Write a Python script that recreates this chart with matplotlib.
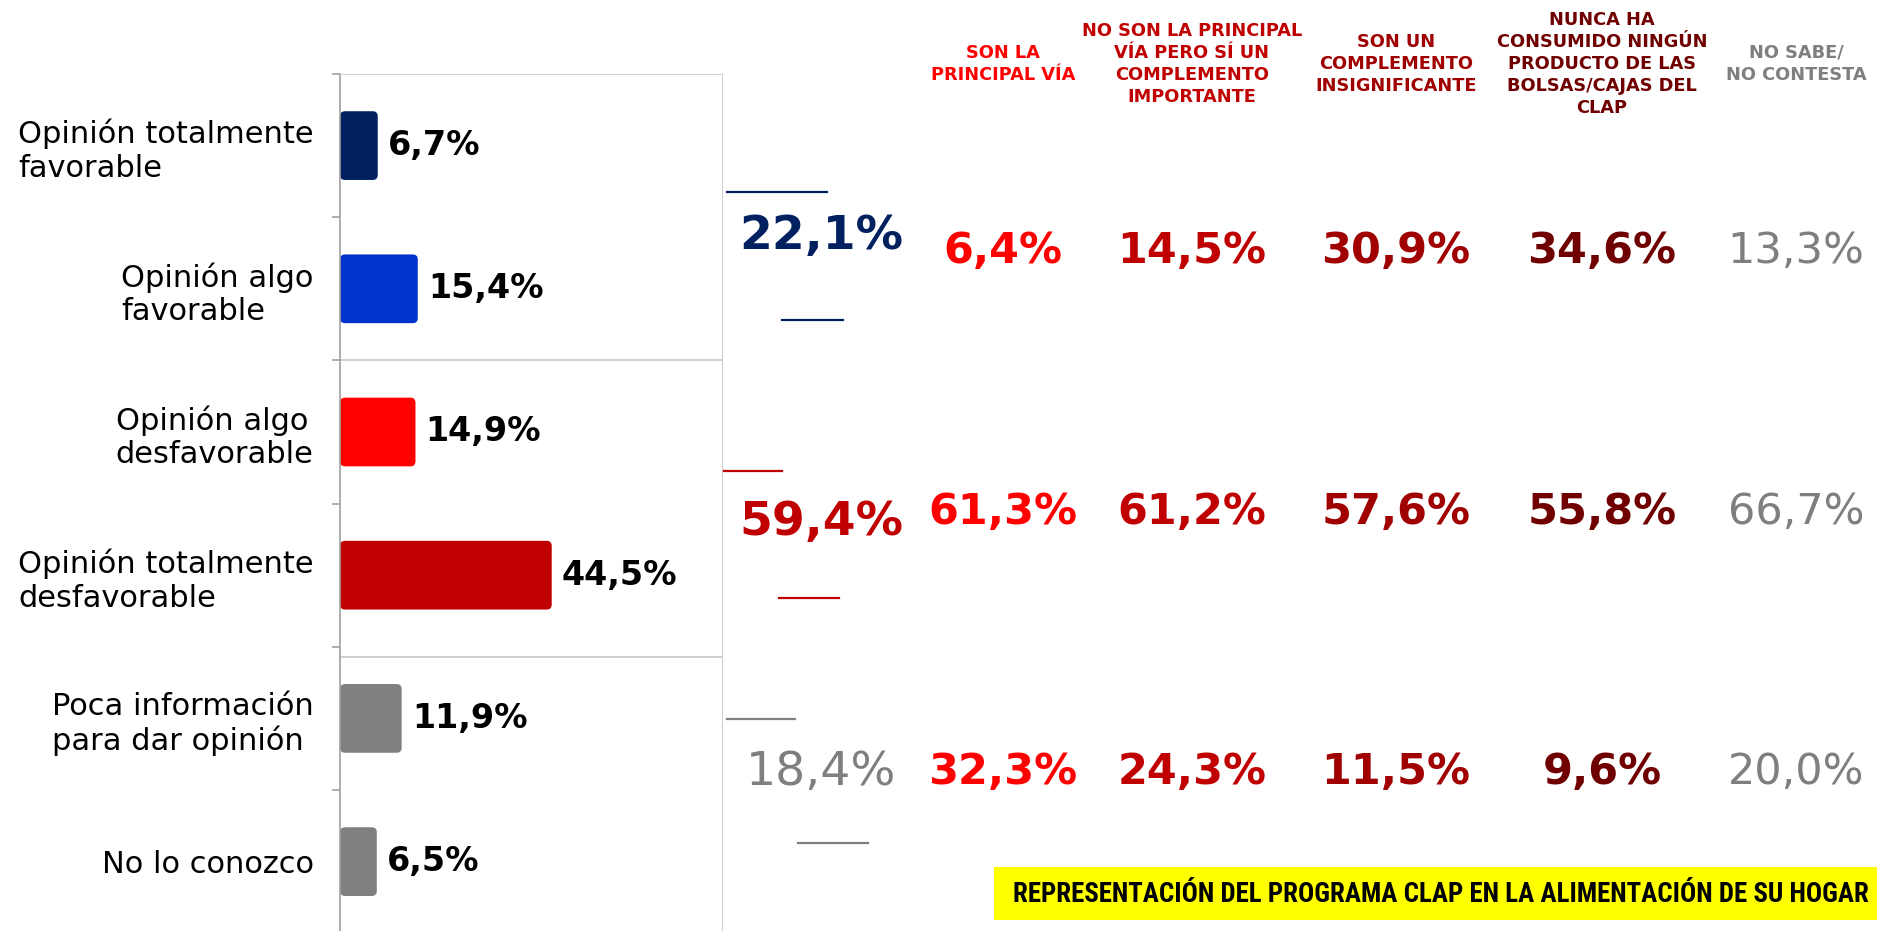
import matplotlib
matplotlib.use('Agg')
import matplotlib.pyplot as plt
import matplotlib.font_manager as fm
from matplotlib.patches import FancyBboxPatch, Rectangle
from matplotlib.lines import Line2D
import numpy as np

# opinion del programa CLAP (barras)
categories = ['Opinión totalmente\nfavorable', 'Opinión algo\nfavorable',
              'Opinión algo\ndesfavorable', 'Opinión totalmente\ndesfavorable',
              'Poca información\npara dar opinión', 'No lo conozco']
opinion = [6.7, 15.4, 14.9, 44.5, 11.9, 6.5]
bar_colors = ['#002060', '#0033CC', '#FF0000', '#C00000', '#808080', '#808080']

# totales por grupo de opinion
group_totals = [22.1, 59.4, 18.4]
total_colors = ['#002060', '#C00000', '#7F7F7F']

# representacion del CLAP en la alimentacion del hogar (columnas)
headers = ['SON LA\nPRINCIPAL VÍA',
           'NO SON LA PRINCIPAL\nVÍA PERO SÍ UN\nCOMPLEMENTO\nIMPORTANTE',
           'SON UN\nCOMPLEMENTO\nINSIGNIFICANTE',
           'NUNCA HA\nCONSUMIDO NINGÚN\nPRODUCTO DE LAS\nBOLSAS/CAJAS DEL\nCLAP',
           'NO SABE/\nNO CONTESTA']
principal = [6.4, 61.3, 32.3]
complemento_importante = [14.5, 61.2, 24.3]
complemento_insignificante = [30.9, 57.6, 11.5]
nunca_ha_consumido = [34.6, 55.8, 9.6]
no_sabe = [13.3, 66.7, 20.0]
col_colors = ['#FF0000', '#C00000', '#A00000', '#700000', '#7F7F7F']
footer = 'REPRESENTACIÓN DEL PROGRAMA CLAP EN LA ALIMENTACIÓN DE SU HOGAR'


def pct(v):
    return f'{v:.1f}'.replace('.', ',') + '%'


names = {f.name for f in fm.fontManager.ttflist}
narrow = 'DejaVu Sans'
for cand in ['Liberation Sans Narrow', 'DejaVu Sans Condensed', 'Roboto Condensed',
             'Open Sans Condensed', 'Noto Sans Condensed']:
    if cand in names:
        narrow = cand
        break

plt.rcParams['font.family'] = ['DejaVu Sans']

W, H = 1877, 931
fig = plt.figure(figsize=(W / 100, H / 100), dpi=100)
fig.patch.set_facecolor('white')

# bar panel
ax = fig.add_axes([340 / W, 0, 382 / W, (H - 74) / H])
pad = 1.5
y = np.arange(len(opinion))
bars = ax.barh(y, np.array(opinion) + pad, left=-pad, height=0.48, color=bar_colors)
for b, c in zip(bars, bar_colors):
    b.set_visible(False)
    ax.add_patch(FancyBboxPatch((b.get_x(), b.get_y()), b.get_width(), b.get_height(),
                                boxstyle='round,pad=0,rounding_size=1.1',
                                mutation_aspect=0.032, fc=c, ec='none'))
for yi, v in zip(y, opinion):
    ax.text(v + 2.2, yi, pct(v), va='center', ha='left', fontsize=24,
            fontweight='bold', color='black')

ax.set_xlim(-pad, 81.5)
ax.set_ylim(-0.5 + (H - 74) / 143.2, -0.5)
ax.set_xticks([])
ax.set_yticks(np.arange(-0.5, 5, 1))
ax.set_yticklabels([])
ax.set_yticks(y, minor=True)
ax.set_yticklabels(categories, minor=True, fontsize=22, ha='right', ma='left',
                   linespacing=1.2)
ax.tick_params(axis='y', which='major', length=6, color='#A0A0A0', width=1.2)
ax.tick_params(axis='y', which='minor', length=0, pad=19)
ax.spines['left'].set_color('#A0A0A0')
ax.spines['left'].set_linewidth(1.2)
for s in ['top', 'right']:
    ax.spines[s].set_color('#D0D0D0')
ax.spines['bottom'].set_visible(False)
ax.axhline(1.5, color='#C8C8C8', lw=1.2)
ax.axhline(3.57, color='#C8C8C8', lw=1.2)

# group totals with their accent lines
total_y = [237, 523, 772]
accent = [((727, 827, 192), (782, 843, 320)),
          ((724, 782, 471), (779, 839, 598)),
          ((727, 795, 719), (798, 868, 843))]
for v, c, ty, lines in zip(group_totals, total_colors, total_y, accent):
    fig.text(821 / W, 1 - ty / H, pct(v), ha='center', va='center', fontsize=34,
             fontweight='bold' if c != '#7F7F7F' else 'normal', color=c)
    for x0, x1, ly in lines:
        fig.add_artist(Line2D([x0 / W, x1 / W], [1 - ly / H] * 2,
                              transform=fig.transFigure, color=c, lw=1.6))

# table of percentages by column
columns = [principal, complemento_importante, complemento_insignificante,
           nunca_ha_consumido, no_sabe]
col_x = [1003, 1192, 1396, 1602, 1796]
row_y = [251, 512, 772]
for hx, head, vals, c in zip(col_x, headers, columns, col_colors):
    fig.text(hx / W, 1 - 64 / H, head, ha='center', va='center', fontsize=12.8,
             fontweight='bold', color=c, linespacing=1.3)
    for ry, v in zip(row_y, vals):
        fig.text(hx / W, 1 - ry / H, pct(v), ha='center', va='center', fontsize=31,
                 fontweight='bold' if c != '#7F7F7F' else 'normal', color=c)

# yellow footer
fig.patches.append(Rectangle((994 / W, 1 - 920 / H), (W - 994) / W + 0.01, 53 / H,
                             transform=fig.transFigure, fc='#FFFF00', ec='none'))
ft = fig.text(1013 / W, 1 - 894 / H, footer, ha='left', va='center', fontsize=20,
              fontweight='bold', family=narrow, fontstretch='condensed', color='black')
fig.canvas.draw()
wpx = ft.get_window_extent().width
if wpx > 858:
    ft.set_fontsize(20 * 858 / wpx)

fig.savefig('out.png', dpi=100)
